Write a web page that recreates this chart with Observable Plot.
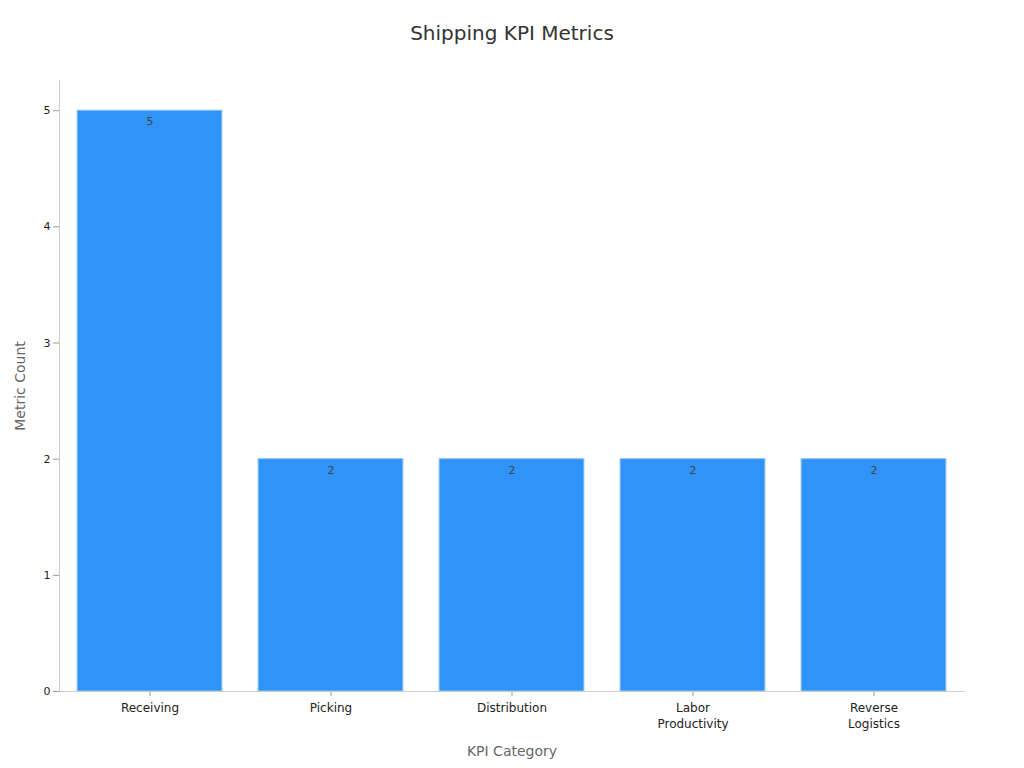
<!DOCTYPE html>
<html>
<head>
<meta charset="utf-8">
<script src="https://cdn.jsdelivr.net/npm/d3@7"></script>
<script src="https://cdn.jsdelivr.net/npm/@observablehq/plot@0.6"></script>
<style>
  body { margin: 0; background: #fff; font-family: "DejaVu Sans", sans-serif; }
  #title { height: 66px; line-height: 66px; text-align: center; font-size: 20px; color: #333; }
</style>
</head>
<body>
<div id="title">Shipping KPI Metrics</div>
<div id="chart"></div>
<script>
const categories = ["Receiving", "Picking", "Distribution", "Labor Productivity", "Reverse Logistics"];
const tickLabels = ["Receiving", "Picking", "Distribution", "Labor\nProductivity", "Reverse\nLogistics"];
const values = [5, 2, 2, 2, 2];

const data = categories.map((c, i) => ({category: c, value: values[i], label: tickLabels[i]}));
const labelOf = new Map(data.map(d => [d.category, d.label]));

const chart = Plot.plot({
  width: 1024,
  height: 702,
  marginTop: 14,
  marginBottom: 77,
  marginLeft: 59,
  marginRight: 60,
  style: {fontFamily: "DejaVu Sans, sans-serif", fontSize: "11px", color: "#333", background: "#fff"},
  x: {domain: categories, paddingInner: 0.2, paddingOuter: 0.1, round: false, label: null},
  y: {domain: [0, 5.26], label: null},
  marks: [
    Plot.barY(data, {x: "category", y: "value", fill: "#2f93f7", stroke: "#8fc3f5", strokeWidth: 1}),
    Plot.text(data, {x: "category", y: "value", text: d => String(d.value), dy: 11, fill: "#444", fontSize: 11}),
    Plot.axisX({tickFormat: d => labelOf.get(d), tickSize: 5, tickPadding: 4, lineHeight: 1.35, stroke: "#999", fill: "#222", fontSize: 12, label: null}),
    Plot.axisY({ticks: [0,1,2,3,4,5], tickFormat: d3.format("d"), tickSize: 6, tickPadding: 3, stroke: "#999", fill: "#222", fontSize: 11, label: null}),
    Plot.frame({anchor: "bottom", stroke: "#ccc"}),
    Plot.frame({anchor: "left", stroke: "#ccc"}),
    Plot.text(["KPI Category"], {frameAnchor: "bottom", dy: 64, textAnchor: "middle", fill: "#666", fontSize: 14}),
    Plot.text(["Metric Count"], {frameAnchor: "left", dx: -39, rotate: -90, textAnchor: "middle", fill: "#666", fontSize: 14})
  ]
});
document.getElementById("chart").appendChild(chart);
</script>
</body>
</html>
